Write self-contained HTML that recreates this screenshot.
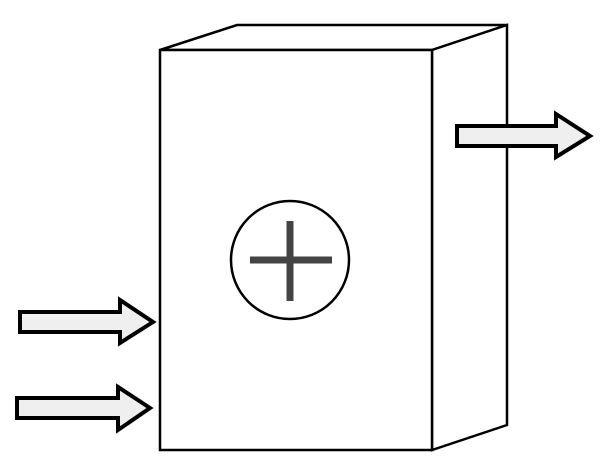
<!DOCTYPE html>
<html><head><style>html,body{margin:0;padding:0;background:#fff}svg{display:block}</style></head>
<body>
<svg width="611" height="466" viewBox="0 0 611 466" xmlns="http://www.w3.org/2000/svg">
<g fill="#fff" stroke="#000" stroke-width="2.5" stroke-linejoin="miter">
<polygon points="160,50 237,25 507,25 432,50"/>
<polygon points="432,50 507,25 507,425 432,450"/>
<rect x="160" y="50" width="272" height="400"/>
</g>
<circle cx="290" cy="260" r="59" fill="#fff" stroke="#000" stroke-width="2.5"/>
<g stroke="#444" stroke-width="7">
<line x1="250" y1="260" x2="332" y2="260"/>
<line x1="290" y1="221" x2="290" y2="301"/>
</g>
<g fill="#efefef" stroke="#000" stroke-width="4" stroke-linejoin="miter">
<polygon points="20,312 120,312 120,300 153,322 120,343 120,332 20,332"/>
<polygon points="17,398 118,398 118,387 150,408 118,430 118,418 17,418"/>
<polygon points="457,126 556,126 556,114 590,136 556,157 556,146 457,146"/>
</g>
</svg>
</body></html>
